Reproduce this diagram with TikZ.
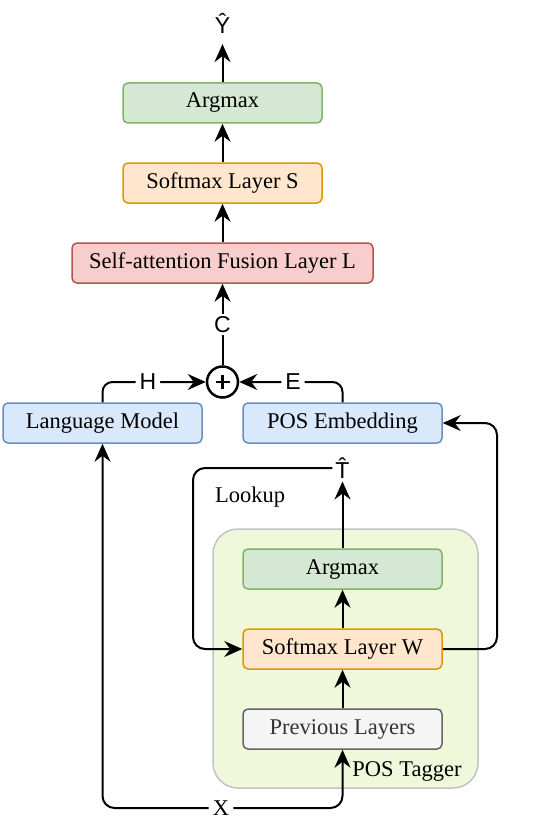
\documentclass[tikz,border=0pt]{standalone}
\usepackage{fontspec}
\setmainfont{Liberation Serif}
\newfontfamily\lsans{Liberation Sans}
\usetikzlibrary{arrows.meta}
\definecolor{gfill}{HTML}{D5E8D4}
\definecolor{gline}{HTML}{82B366}
\definecolor{ofill}{HTML}{FFE6CC}
\definecolor{oline}{HTML}{D79B00}
\definecolor{rfill}{HTML}{F8CECC}
\definecolor{rline}{HTML}{B85450}
\definecolor{bfill}{HTML}{DAE8FC}
\definecolor{bline}{HTML}{6C8EBF}
\definecolor{yfill}{HTML}{F5F5F5}
\definecolor{yline}{HTML}{666666}
\definecolor{ytext}{HTML}{333333}
\definecolor{cfill}{HTML}{F0F8DC}
\definecolor{cline}{HTML}{C3C3C3}
\begin{document}
\begin{tikzpicture}[x=1pt,y=-1pt,
  serif/.style={font=\fontsize{22.5}{27}\selectfont},
  box/.style={draw, rounded corners=5pt, line width=1.5pt, minimum width=199pt,
              minimum height=40pt, inner sep=0pt, serif},
  greenbox/.style={box, fill=gfill, draw=gline},
  orangebox/.style={box, fill=ofill, draw=oline},
  redbox/.style={box, fill=rfill, draw=rline, minimum width=301pt},
  bluebox/.style={box, fill=bfill, draw=bline},
  greybox/.style={box, fill=yfill, draw=yline, text=ytext},
  container/.style={draw=cline, fill=cfill, line width=1.5pt, rounded corners=25pt,
              minimum width=265pt, minimum height=259pt, inner sep=0pt},
  arr/.style={-{Stealth[length=18pt,width=16pt,inset=6pt]}, line width=2pt},
  lab/.style={font=\lsans\fontsize{23}{27}\selectfont, fill=white, inner sep=3pt},
]
\useasboundingbox (0,0) rectangle (552,840);

% top column
\node[greenbox]  (argTop) at (222.5,103) {Argmax};
\node[orangebox] (softS)  at (222.5,183) {Softmax Layer S};
\node[redbox]    (selfL)  at (222.5,263) {Self-attention Fusion Layer L};
\node[lab, inner sep=3pt, outer sep=8pt, fill=none] (Yhat) at (222.5,23) {\^{Y}};

% fusion
\node[circle, draw, line width=2.5pt, minimum size=31pt, inner sep=0pt] (plus) at (222.5,382) {};
\draw[line width=2.5pt] ([xshift=-7pt]plus.center) -- ([xshift=7pt]plus.center);
\draw[line width=2.5pt] ([yshift=-7pt]plus.center) -- ([yshift=7pt]plus.center);

\node[bluebox] (LM) at (102.5,423) {Language Model};
\node[bluebox] (PE) at (342.5,423) {POS Embedding};

% POS tagger
\node[container] (tagger) at (345.5,658.5) {};
\node[greenbox]  (PArg) at (342.5,569) {Argmax};
\node[orangebox] (SW)   at (342.5,649) {Softmax Layer W};
\node[greybox]   (PL)   at (342.5,729) {Previous Layers};
\node[serif, inner sep=0pt] (taglab) at (407,771) {POS Tagger};

\node[lab, fill=none, inner sep=3pt] (That) at (342.5,468) {\^{T}};
\node[serif, inner sep=0pt] (lookup) at (250,497) {Lookup};
\node[serif, fill=white, inner sep=4pt] (X) at (221,808) {X};

\coordinate (lkc) at (193,649);
\coordinate (rc)  at (497,649);

% connectors
\draw[arr] (argTop) -- (Yhat);
\draw[arr] (softS) -- (argTop);
\draw[arr] (selfL) -- (softS);
\draw[arr] (plus) -- node[lab, inner sep=2pt]{C} (selfL);
\draw[arr, rounded corners=10pt] (LM.north) |- node[lab, pos=0.72, inner sep=4pt]{H} (plus.west);
\draw[arr, rounded corners=10pt] (PE.north) |- node[lab, pos=0.74, inner sep=4pt]{E} (plus.east);

\draw[arr] (PL) -- (SW);
\draw[arr] (SW) -- (PArg);
\draw[arr] (PArg) -- (That);
\draw[arr, rounded corners=12pt] (That.west) -| (lkc) -- (SW.west);
\draw[arr, rounded corners=12pt] (SW.east) -- (rc) |- (PE.east);
\draw[arr, rounded corners=12pt] (X.west) -| (LM.south);
\draw[arr, rounded corners=12pt] (X.east) -| (PL.south);
\end{tikzpicture}
\end{document}
